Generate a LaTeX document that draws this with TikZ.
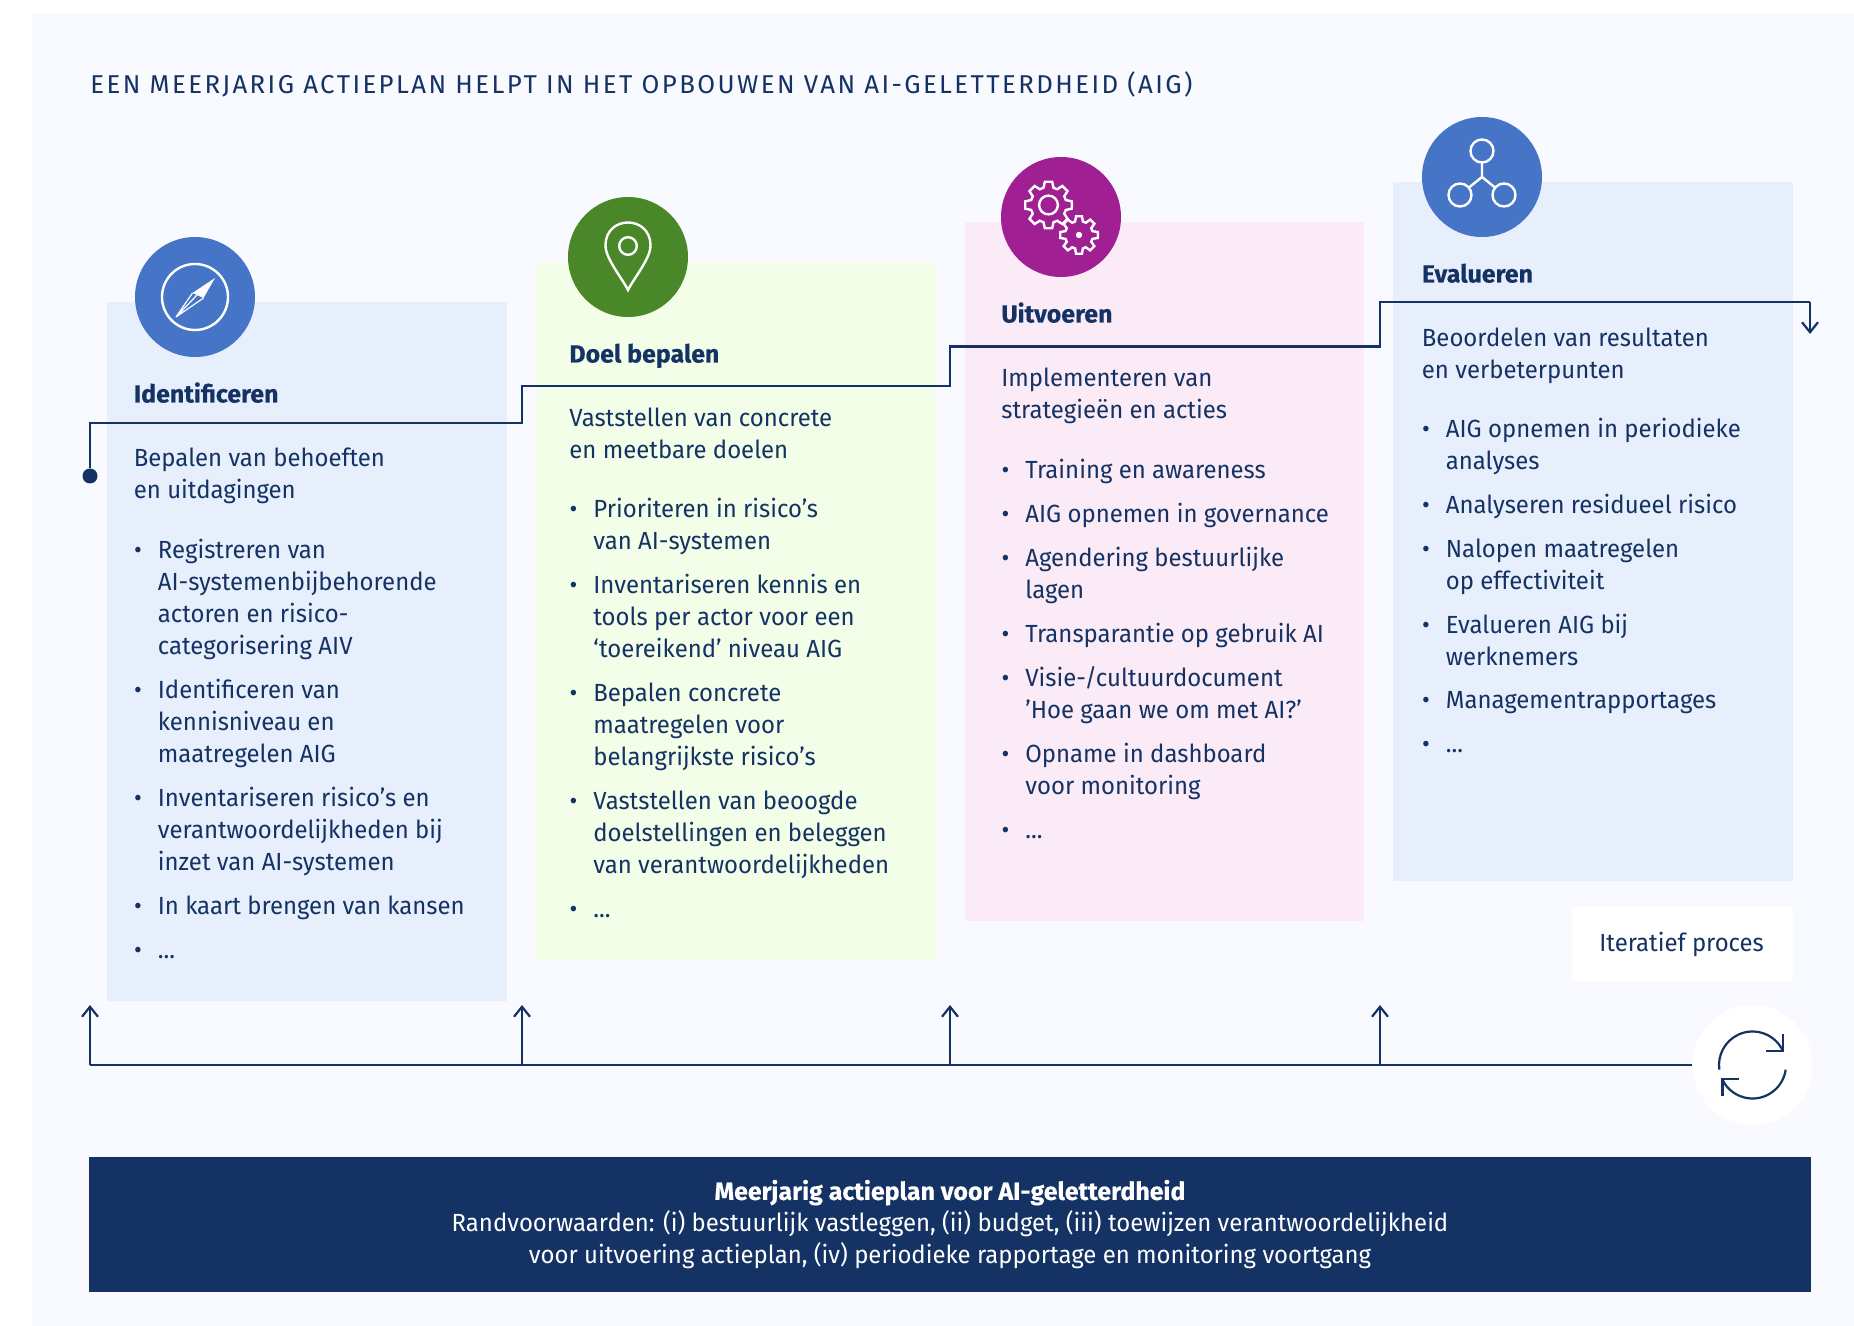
\documentclass[tikz,border=0pt]{standalone}
\usepackage{fontspec}
\setmainfont{Fira Sans}[FakeStretch=0.965, BoldFeatures={FakeStretch=1.005,FakeBold=0.3}]
\usepackage{tikz}
\usetikzlibrary{positioning,arrows.meta,calc}
\usepackage{xcolor}
\definecolor{navy}{HTML}{143263}
\definecolor{panelbg}{HTML}{F9FAFF}
\definecolor{boxblue}{HTML}{E7EFFC}
\definecolor{boxgreen}{HTML}{F2FEE8}
\definecolor{boxpink}{HTML}{FAEBF7}
\definecolor{iconblue}{HTML}{4675C8}
\definecolor{icongreen}{HTML}{4A8729}
\definecolor{iconpurple}{HTML}{A02093}

\begin{document}
\begin{tikzpicture}[
  x=0.5pt, y=-0.5pt,
  colbox/.style={minimum width=200pt, inner sep=0pt, anchor=north west},
  iconcirc/.style={circle, minimum size=60pt, inner sep=0pt},
  heading/.style={anchor=base west, inner sep=0pt, text=navy, font=\fontsize{12.4}{16}\selectfont\bfseries},
  para/.style={anchor=base west, inner sep=0pt, text=navy, align=left, font=\fontsize{12.4}{16}\selectfont},
  item/.style={para},
  route/.style={draw=navy, line width=1.1pt},
  arrow/.style={route, -{Straight Barb[length=5pt, width=8pt]}},
  glyph/.style={draw=white, line width=1.2pt},
]

\useasboundingbox (0,0) rectangle (1854,1326);

% Background
\node[fill=panelbg, inner sep=0pt, minimum width=911pt, minimum height=656.5pt, anchor=north west] (panel) at (32,13) {};

% Title
\node[para, font=\fontsize{12.9}{16}\selectfont\addfontfeature{FakeStretch=1,LetterSpace=9.3}] (title) at (90,93.5) {EEN MEERJARIG ACTIEPLAN HELPT IN HET OPBOUWEN VAN AI-GELETTERDHEID (AIG)};

% Column boxes
\node[colbox, fill=boxblue, minimum height=349.5pt] (colA) at (107,302) {};
\node[colbox, fill=boxgreen, minimum height=349pt] (colB) at (536,262) {};
\node[colbox, fill=boxpink, minimum width=199.5pt, minimum height=349.5pt] (colC) at (965,222) {};
\node[colbox, fill=boxblue, minimum height=349.5pt] (colD) at (1393,182) {};

% Icon circles
\node[iconcirc, fill=iconblue] (iconA) at (195,297) {};
\node[iconcirc, fill=icongreen] (iconB) at (628,257) {};
\node[iconcirc, fill=iconpurple] (iconC) at (1061,217) {};
\node[iconcirc, fill=iconblue] (iconD) at (1482,177) {};

% Compass
\draw[glyph] (iconA) circle (33);
\fill[white] (215,278) -- (192.5,293) -- (203.5,298) -- cycle;
\draw[white, line width=0.6pt, line join=round] (192.5,293) -- (176,317) -- (203.5,298) (197,295) -- (176,317);

% Pin
\draw[glyph] (628,290) .. controls (622,278) and (605,258) .. (605.5,245) .. controls (606,215) and (650,215) .. (650.5,245) .. controls (651,258) and (634,278) .. (628,290) -- cycle;
\draw[glyph] (628,246) circle (8.8);

% Gears
\draw[glyph, line join=miter] (1048.5,205) ++(0:23.5) \foreach \a in {0,45,...,315} {
  -- ($(1048.5,205)+(\a+9:23.5)$) -- ($(1048.5,205)+(\a+16:18)$) -- ($(1048.5,205)+(\a+29:18)$) -- ($(1048.5,205)+(\a+36:23.5)$)
} -- cycle;
\draw[glyph] (1048.5,205) circle (9.4);
\draw[glyph, line join=miter] (1079,235) ++(0:19) \foreach \a in {0,45,...,315} {
  -- ($(1079,235)+(\a+9:19)$) -- ($(1079,235)+(\a+16:14)$) -- ($(1079,235)+(\a+29:14)$) -- ($(1079,235)+(\a+36:19)$)
} -- cycle;
\fill[white] (1079,235) circle (3.2);

% Network
\draw[glyph] (1482,151) circle (11.5) (1460,195) circle (11.5) (1504,195) circle (11.5);
\draw[glyph] (1482,162.5) -- (1482,177) -- (1469,187.5) (1482,177) -- (1495,187.5);

% Identificeren
\node[heading] (headA) at (133.5,402.5) {Identificeren};
\node[para] (introA) at (133.5,498.5) {Bepalen van behoeften\\en uitdagingen};
\node[item] (itemAa) at (157.5,654.5) {\llap{•\hspace{8pt}}Registreren van\\AI-systemenbijbehorende\\actoren en risico-\\categorisering AIV};
\node[item] (itemAb) at (157.5,762.5) {\llap{•\hspace{8pt}}Identificeren van\\kennisniveau en\\maatregelen AIG};
\node[item] (itemAc) at (157.5,870.5) {\llap{•\hspace{8pt}}Inventariseren risico’s en\\verantwoordelijkheden bij\\inzet van AI-systemen};
\node[item] (itemAd) at (157.5,914.5) {\llap{•\hspace{8pt}}In kaart brengen van kansen};
\node[item] (itemAe) at (157.5,958.5) {\llap{•\hspace{8pt}}...};

% Doel bepalen
\node[heading] (headB) at (569,362.5) {Doel bepalen};
\node[para] (introB) at (569,458.5) {Vaststellen van concrete\\en meetbare doelen};
\node[item] (itemBa) at (593,549.5) {\llap{•\hspace{8pt}}Prioriteren in risico’s\\van AI-systemen};
\node[item] (itemBb) at (593,657.5) {\llap{•\hspace{8pt}}Inventariseren kennis en\\tools per actor voor een\\‘toereikend’ niveau AIG};
\node[item] (itemBc) at (593,765.5) {\llap{•\hspace{8pt}}Bepalen concrete\\maatregelen voor\\belangrijkste risico’s};
\node[item] (itemBd) at (593,873.5) {\llap{•\hspace{8pt}}Vaststellen van beoogde\\doelstellingen en beleggen\\van verantwoordelijkheden};
\node[item] (itemBe) at (593,917.5) {\llap{•\hspace{8pt}}...};

% Uitvoeren
\node[heading] (headC) at (1001,322.5) {Uitvoeren};
\node[para] (introC) at (1001,418.5) {Implementeren van\\strategieën en acties};
\node[item] (itemCa) at (1025,478.5) {\llap{•\hspace{8pt}}Training en awareness};
\node[item] (itemCb) at (1025,522.5) {\llap{•\hspace{8pt}}AIG opnemen in governance};
\node[item] (itemCc) at (1025,598.5) {\llap{•\hspace{8pt}}Agendering bestuurlijke\\lagen};
\node[item] (itemCd) at (1025,642.5) {\llap{•\hspace{8pt}}Transparantie op gebruik AI};
\node[item] (itemCe) at (1025,718.5) {\llap{•\hspace{8pt}}Visie-/cultuurdocument\\’Hoe gaan we om met AI?’};
\node[item] (itemCf) at (1025,794.5) {\llap{•\hspace{8pt}}Opname in dashboard\\voor monitoring};
\node[item] (itemCg) at (1025,838.5) {\llap{•\hspace{8pt}}...};

% Evalueren
\node[heading] (headD) at (1421.5,282.5) {Evalueren};
\node[para] (introD) at (1421.5,378.5) {Beoordelen van resultaten\\en verbeterpunten};
\node[item] (itemDa) at (1445.5,469.5) {\llap{•\hspace{8pt}}AIG opnemen in periodieke\\analyses};
\node[item] (itemDb) at (1445.5,513.5) {\llap{•\hspace{8pt}}Analyseren residueel risico};
\node[item] (itemDc) at (1445.5,589.5) {\llap{•\hspace{8pt}}Nalopen maatregelen\\op effectiviteit};
\node[item] (itemDd) at (1445.5,665.5) {\llap{•\hspace{8pt}}Evalueren AIG bij\\werknemers};
\node[item] (itemDe) at (1445.5,708.5) {\llap{•\hspace{8pt}}Managementrapportages};
\node[item] (itemDf) at (1445.5,752.5) {\llap{•\hspace{8pt}}...};

% Iterative label and loop icon
\node[fill=white, minimum width=110.5pt, minimum height=37pt, inner sep=0pt] (iter) at (1682.5,943.5) {};
\node[para] (itertext) at (1599,951) {Iteratief proces};
\node[iconcirc, fill=white] (loop) at (1752.5,1065) {};
\draw[navy, line width=1.1pt] (1752.5,1065) ++(-25:33.5) arc[start angle=-25, end angle=-188, radius=33.5];
\draw[navy, line width=1.1pt] (1752.5,1065) ++(8:33.5) arc[start angle=8, end angle=155, radius=33.5];
\draw[navy, line width=1.1pt] (1783,1034) -- (1783,1051) -- (1766,1051);
\draw[navy, line width=1.1pt] (1722.5,1096) -- (1722.5,1079) -- (1739,1079);

% Bottom bar
\node[fill=navy, text=white, minimum width=861pt, minimum height=67.5pt, inner sep=0pt, align=center, font=\fontsize{12.4}{16}\selectfont] (plan) at (950,1224.5) {\textbf{Meerjarig actieplan voor AI-geletterdheid}\\Randvoorwaarden: (i) bestuurlijk vastleggen, (ii) budget, (iii) toewijzen verantwoordelijkheid\\voor uitvoering actieplan, (iv) periodieke rapportage en monitoring voortgang};

% Stepped route
\node[circle, fill=navy, minimum size=7.5pt, inner sep=0pt] (startdot) at (90,476) {};
\coordinate (stepAa) at (90,423);
\coordinate (stepAb) at (522,423);
\coordinate (stepBa) at (522,386);
\coordinate (stepBb) at (950,386);
\coordinate (stepCa) at (950,346.5);
\coordinate (stepCb) at (1380,346.5);
\coordinate (stepDa) at (1380,302);
\coordinate (stepDb) at (1810,302);
\coordinate (stepend) at (1810,334);
\draw[route] (startdot) -- (stepAa) -- (stepAb) -- (stepBa) -- (stepBb) -- (stepCa) -- (stepCb) -- (stepDa) -- (stepDb);
\draw[arrow] (stepDb) -- (stepend);

% Base line with feedback arrows
\coordinate (baseA) at (90,1065);
\coordinate (baseB) at (522,1065);
\coordinate (baseC) at (950,1065);
\coordinate (baseD) at (1380,1065);
\coordinate (tipA) at (90,1005);
\coordinate (tipB) at (522,1005);
\coordinate (tipC) at (950,1005);
\coordinate (tipD) at (1380,1005);
\draw[route] (loop) -- (baseA);
\draw[arrow] (baseA) -- (tipA);
\draw[arrow] (baseB) -- (tipB);
\draw[arrow] (baseC) -- (tipC);
\draw[arrow] (baseD) -- (tipD);

\end{tikzpicture}
\end{document}
